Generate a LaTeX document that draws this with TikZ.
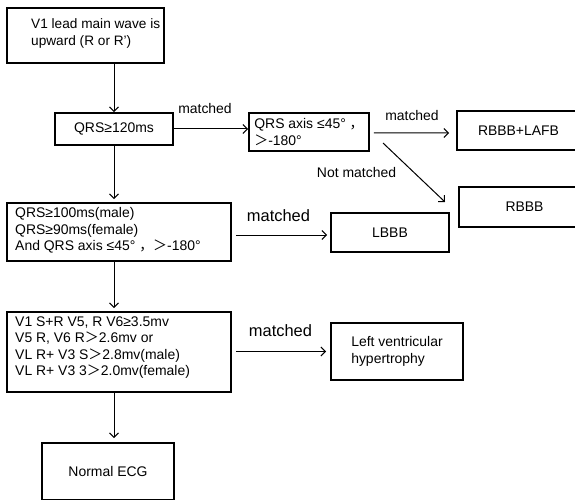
\documentclass[tikz,border=0pt]{standalone}
\usepackage{fontspec}
\usetikzlibrary{arrows.meta}
\setmainfont{Liberation Sans}
\newfontfamily\cjk{Noto Sans CJK SC}
\newcommand{\gtw}{{\cjk ＞}}
\newcommand{\cmw}{{\cjk ，}}
\begin{document}
\begin{tikzpicture}
[
x=1bp, y=-1bp,
ecgbox/.style={rectangle, draw=black, line width=1.8bp, inner sep=0, align=left, font=\fontsize{14}{17.5}\selectfont},
ecgtext/.style={align=left, inner sep=0, font=\fontsize{14}{16.3}\selectfont},
flow/.style={-{Straight Barb[length=4.5bp, width=9bp]}, line width=1bp},
flowlabel/.style={font=\fontsize{14}{16}\selectfont},
biglabel/.style={font=\fontsize{16.5}{18}\selectfont}
]
\useasboundingbox (0,0) rectangle (575,500);
\clip (0,0) rectangle (575,500);
%Nodes
\node[ecgbox, minimum width=157bp, minimum height=55bp] at(85.5,35.5)	(lead) {};
\node[ecgtext, anchor=west, font=\fontsize{13.7}{17}\selectfont] at(31,33.5)	(leadtxt) {V1 lead main wave is\\upward (R or R’)};
\node[ecgbox, minimum width=118bp, minimum height=32bp] at(114,129)	(qrs) {QRS≥120ms};
\node[ecgbox, minimum width=120bp, minimum height=38bp] at(309,132)	(axis) {QRS axis ≤45°~\cmw\\\gtw-180°};
\node[ecgbox, minimum width=123bp, minimum height=39bp] at(518.5,130.5)	(rl) {RBBB+LAFB};
\node[ecgbox, minimum width=131bp, minimum height=40bp] at(524.5,207)	(rbbb) {RBBB};
\node[ecgbox, minimum width=224bp, minimum height=58bp] at(119,232)	(crit) {};
\node[ecgtext, anchor=west] at(15,230.5)	(crittxt) {QRS≥100ms(male)\\QRS≥90ms(female)\\And QRS axis ≤45°~\cmw\gtw-180°};
\node[ecgbox, minimum width=118bp, minimum height=39bp] at(390,232.5)	(lbbb) {LBBB};
\node[ecgbox, minimum width=224bp, minimum height=80bp] at(119,352)	(volt) {};
\node[ecgtext, anchor=west] at(15,347.5)	(volttxt) {V1 S+R V5, R V6≥3.5mv\\V5 R, V6 R\gtw2.6mv or\\VL R+ V3 S\gtw2.8mv(male)\\VL R+ V3 3\gtw2.0mv(female)};
\node[ecgbox, minimum width=132bp, minimum height=57bp] at(397,351.5)	(lvh) {Left ventricular\\hypertrophy};
\node[ecgbox, minimum width=132bp, minimum height=57bp] at(108,471.5)	(normal) {Normal ECG};
\coordinate (nmfrom) at(383,143);
\coordinate (nmto) at(445,202);

%Connectors
\draw[flow] (qrs.north |- lead.south) -- (qrs.north);
\draw[flow] (qrs.east) -- (qrs.east -| axis.west);
\draw[flow, shorten <=4bp, shorten >=7bp] (axis.east |- rl.west) ++(0,2.5) -- ([yshift=-2.5bp]rl.west);
\draw[flow] (nmfrom) -- (nmto);
\draw[flow, shorten >=3bp] (qrs.south) -- (qrs.south |- crit.north);
\draw[flow, shorten <=4bp, shorten >=3bp] ([yshift=-3bp]crit.east) -- ([yshift=-3bp]crit.east -| lbbb.west);
\draw[flow, shorten >=3bp] (qrs.south |- crit.south) -- (qrs.south |- volt.north);
\draw[flow, shorten <=4bp, shorten >=4bp] (volt.east |- lvh.west) -- (lvh.west);
\draw[flow, shorten >=4bp] (qrs.south |- volt.south) -- (qrs.south |- normal.north);

%Labels
\node[flowlabel] at(205,109)	(m1) {matched};
\node[flowlabel] at(412,116)	(m2) {matched};
\node[flowlabel] at(356.5,173)	(nm) {Not matched};
\node[biglabel] at(278.5,216)	(m3) {matched};
\node[biglabel] at(280.5,331)	(m4) {matched};

\end{tikzpicture}
\end{document}
